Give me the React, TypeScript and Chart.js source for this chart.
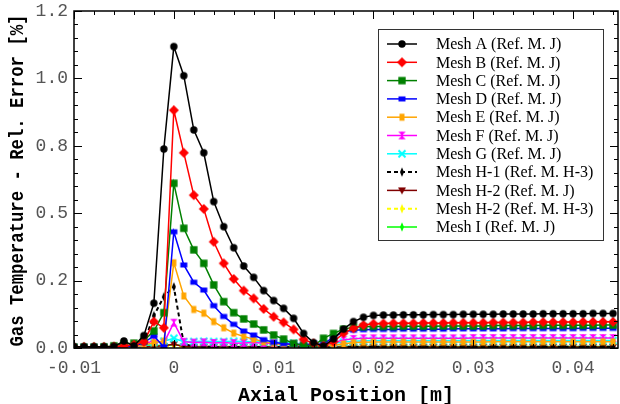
import React, { useEffect, useRef } from "react";
import { Chart, registerables } from "chart.js";

Chart.register(...registerables);

// Axial positions [m]
const xPositions = [
  -0.010, -0.009, -0.008, -0.007, -0.006, -0.005, -0.004, -0.003, -0.002, -0.001,
  0.000, 0.001, 0.002, 0.003, 0.004, 0.005, 0.006, 0.007, 0.008, 0.009,
  0.010, 0.011, 0.012, 0.013, 0.014, 0.015, 0.016, 0.017, 0.018, 0.019,
  0.020, 0.021, 0.022, 0.023, 0.024, 0.025, 0.026, 0.027, 0.028, 0.029,
  0.030, 0.031, 0.032, 0.033, 0.034, 0.035, 0.036, 0.037, 0.038, 0.039,
  0.040, 0.041, 0.042, 0.043, 0.044,
];

const meshA = [
  0.005, 0.005, 0.005, 0.005, 0.006, 0.026, 0.008, 0.046, 0.166, 0.738,
  1.118, 1.010, 0.809, 0.724, 0.543, 0.450, 0.372, 0.304, 0.262, 0.213,
  0.176, 0.147, 0.110, 0.054, 0.020, 0.007, 0.034, 0.070, 0.098, 0.114,
  0.121, 0.122, 0.122, 0.123, 0.123, 0.123, 0.124, 0.124, 0.124, 0.125,
  0.125, 0.125, 0.125, 0.126, 0.126, 0.126, 0.126, 0.127, 0.127, 0.127,
  0.127, 0.127, 0.128, 0.128, 0.128,
];
const meshB = [
  0.004, 0.004, 0.004, 0.004, 0.005, 0.008, 0.012, 0.023, 0.098, 0.075,
  0.882, 0.724, 0.567, 0.516, 0.394, 0.314, 0.256, 0.213, 0.184, 0.145,
  0.116, 0.095, 0.069, 0.032, 0.017, 0.008, 0.023, 0.055, 0.073, 0.085,
  0.090, 0.091, 0.092, 0.092, 0.092, 0.093, 0.093, 0.093, 0.094, 0.094,
  0.094, 0.094, 0.095, 0.095, 0.095, 0.095, 0.096, 0.096, 0.096, 0.096,
  0.096, 0.097, 0.097, 0.097, 0.097,
];
const meshC = [
  0.003, 0.003, 0.003, 0.004, 0.008, 0.015, 0.018, 0.028, 0.063, 0.131,
  0.611, 0.444, 0.364, 0.314, 0.234, 0.172, 0.131, 0.108, 0.089, 0.067,
  0.048, 0.033, 0.017, 0.010, 0.008, 0.036, 0.054, 0.070, 0.077, 0.079,
  0.080, 0.080, 0.080, 0.081, 0.081, 0.081, 0.081, 0.082, 0.082, 0.082,
  0.082, 0.082, 0.083, 0.083, 0.083, 0.083, 0.083, 0.084, 0.084, 0.084,
  0.084, 0.084, 0.084, 0.085, 0.085,
];
const meshD = [
  0.002, 0.002, 0.002, 0.002, 0.003, 0.005, 0.008, 0.020, 0.045, 0.004,
  0.431, 0.308, 0.244, 0.215, 0.157, 0.117, 0.088, 0.063, 0.048, 0.031,
  0.021, 0.016, 0.013, 0.012, 0.012, 0.015, 0.040, 0.060, 0.066, 0.068,
  0.069, 0.069, 0.069, 0.070, 0.070, 0.070, 0.070, 0.070, 0.071, 0.071,
  0.071, 0.071, 0.071, 0.071, 0.072, 0.072, 0.072, 0.072, 0.072, 0.072,
  0.072, 0.073, 0.073, 0.073, 0.073,
];
const meshE = [
  0.002, 0.002, 0.002, 0.002, 0.003, 0.004, 0.006, 0.010, 0.020, 0.025,
  0.316, 0.193, 0.143, 0.129, 0.098, 0.075, 0.055, 0.043, 0.033, 0.023,
  0.017, 0.013, 0.011, 0.010, 0.010, 0.008, 0.010, 0.015, 0.020, 0.021,
  0.022, 0.022, 0.022, 0.022, 0.022, 0.022, 0.022, 0.022, 0.022, 0.022,
  0.022, 0.022, 0.023, 0.023, 0.023, 0.023, 0.023, 0.023, 0.023, 0.023,
  0.023, 0.023, 0.023, 0.023, 0.023,
];
const meshF = [
  0.002, 0.002, 0.002, 0.002, 0.002, 0.003, 0.005, 0.010, 0.030, 0.018,
  0.094, 0.023, 0.020, 0.021, 0.019, 0.020, 0.018, 0.019, 0.020, 0.018,
  0.017, 0.016, 0.015, 0.014, 0.013, 0.014, 0.020, 0.030, 0.034, 0.036,
  0.036, 0.036, 0.036, 0.036, 0.036, 0.036, 0.036, 0.036, 0.036, 0.036,
  0.037, 0.037, 0.037, 0.037, 0.037, 0.037, 0.037, 0.037, 0.037, 0.037,
  0.037, 0.037, 0.037, 0.037, 0.037,
];
const meshG = [
  0.002, 0.002, 0.002, 0.002, 0.002, 0.004, 0.005, 0.006, 0.020, 0.025,
  0.036, 0.023, 0.024, 0.025, 0.024, 0.024, 0.025, 0.024, 0.023, 0.022,
  0.021, 0.020, 0.018, 0.017, 0.015, 0.015, 0.018, 0.022, 0.025, 0.027,
  0.028, 0.028, 0.028, 0.028, 0.028, 0.028, 0.028, 0.028, 0.028, 0.028,
  0.028, 0.028, 0.028, 0.028, 0.028, 0.028, 0.028, 0.028, 0.028, 0.028,
  0.028, 0.028, 0.028, 0.028, 0.028,
];
const meshH1 = [
  0.002, 0.002, 0.002, 0.002, 0.002, 0.002, 0.005, 0.020, 0.120, 0.190,
  0.227, 0.015, 0.006, 0.005, 0.004, 0.004, 0.004, 0.004, 0.004, 0.004,
  0.004, 0.004, 0.004, 0.004, 0.004, 0.004, 0.004, 0.004, 0.005, 0.005,
  0.005, 0.005, 0.005, 0.005, 0.005, 0.005, 0.005, 0.005, 0.005, 0.005,
  0.005, 0.005, 0.005, 0.005, 0.005, 0.005, 0.005, 0.005, 0.005, 0.005,
  0.005, 0.005, 0.005, 0.005, 0.005,
];
const meshH2J = [
  0.004, 0.004, 0.004, 0.004, 0.004, 0.004, 0.004, 0.005, 0.006, 0.008,
  0.014, 0.006, 0.004, 0.004, 0.004, 0.004, 0.004, 0.004, 0.004, 0.004,
  0.004, 0.004, 0.004, 0.004, 0.004, 0.004, 0.004, 0.004, 0.004, 0.004,
  0.004, 0.004, 0.004, 0.004, 0.004, 0.004, 0.004, 0.004, 0.004, 0.004,
  0.004, 0.004, 0.004, 0.004, 0.004, 0.004, 0.004, 0.004, 0.004, 0.004,
  0.004, 0.004, 0.004, 0.004, 0.004,
];
const meshH2H3 = [
  0.003, 0.003, 0.003, 0.003, 0.003, 0.003, 0.003, 0.004, 0.005, 0.006,
  0.008, 0.004, 0.003, 0.003, 0.003, 0.003, 0.003, 0.003, 0.003, 0.003,
  0.003, 0.003, 0.003, 0.003, 0.003, 0.003, 0.003, 0.003, 0.003, 0.003,
  0.003, 0.003, 0.003, 0.003, 0.003, 0.003, 0.003, 0.003, 0.003, 0.003,
  0.003, 0.003, 0.003, 0.003, 0.003, 0.003, 0.003, 0.003, 0.003, 0.003,
  0.003, 0.003, 0.003, 0.003, 0.003,
];
const meshI = [
  0.005, 0.005, 0.005, 0.005, 0.005, 0.005, 0.006, 0.007, 0.008, 0.010,
  0.012, 0.008, 0.006, 0.006, 0.006, 0.006, 0.006, 0.006, 0.006, 0.006,
  0.006, 0.006, 0.006, 0.006, 0.006, 0.006, 0.006, 0.006, 0.006, 0.006,
  0.006, 0.006, 0.006, 0.006, 0.006, 0.006, 0.006, 0.006, 0.006, 0.006,
  0.006, 0.006, 0.006, 0.006, 0.006, 0.006, 0.006, 0.006, 0.006, 0.006,
  0.006, 0.006, 0.006, 0.006, 0.006,
];

const seriesLabels = [
  "Mesh A (Ref. M. J)",
  "Mesh B (Ref. M. J)",
  "Mesh C (Ref. M. J)",
  "Mesh D (Ref. M. J)",
  "Mesh E (Ref. M. J)",
  "Mesh F (Ref. M. J)",
  "Mesh G (Ref. M. J)",
  "Mesh H-1 (Ref. M. H-3)",
  "Mesh H-2 (Ref. M. J)",
  "Mesh H-2 (Ref. M. H-3)",
  "Mesh I (Ref. M. J)",
];
const seriesValues = [meshA, meshB, meshC, meshD, meshE, meshF, meshG, meshH1, meshH2J, meshH2H3, meshI];
const seriesColors = ["#000000", "#ff0000", "#008000", "#0000ff", "#ffa500", "#ff00ff", "#00ffff", "#000000", "#800000", "#ffff00", "#00ff00"];
const seriesMarkers = ["circle", "diamond", "square", "hrect", "vrect", "hourglass", "cross", "thin", "tridown", "thin", "thin"];
const seriesDashed = [false, false, false, false, false, false, false, true, false, true, false];

const xTickValues = [-0.01, 0, 0.01, 0.02, 0.03, 0.04];
const xTickLabels = ["-0.01", "0", "0.01", "0.02", "0.03", "0.04"];
const yTickValues = [0, 0.25, 0.5, 0.75, 1.0, 1.25];
const yTickLabels = ["0.0", "0.2", "0.5", "0.8", "1.0", "1.2"];

const X_MIN = -0.01;
const X_MAX = 0.0445;
const X_MINOR = 0.002;
const X_MAJOR = 0.01;
const Y_MIN = 0;
const Y_MAX = 1.25;
const Y_MINOR = 0.05;
const Y_MAJOR = 0.25;

const xTitle = "Axial Position [m]";
const yTitle = "Gas Temperature - Rel. Error [%]";

function makeMarker(kind: string, color: string): HTMLCanvasElement {
  const s = 12;
  const c = document.createElement("canvas");
  c.width = s;
  c.height = s;
  const g = c.getContext("2d")!;
  const m = s / 2;
  g.fillStyle = color;
  g.strokeStyle = color;
  const poly = (pts: number[][]) => {
    g.beginPath();
    g.moveTo(pts[0][0], pts[0][1]);
    for (let i = 1; i < pts.length; i++) g.lineTo(pts[i][0], pts[i][1]);
    g.closePath();
    g.fill();
  };
  switch (kind) {
    case "circle":
      g.beginPath();
      g.arc(m, m, 3.7, 0, Math.PI * 2);
      g.fill();
      break;
    case "diamond":
      poly([[m, m - 5], [m + 5, m], [m, m + 5], [m - 5, m]]);
      break;
    case "square":
      g.fillRect(m - 3.7, m - 3.7, 7.4, 7.4);
      break;
    case "hrect":
      g.fillRect(m - 3.5, m - 2.5, 7, 5);
      break;
    case "vrect":
      g.fillRect(m - 2.5, m - 3.5, 5, 7);
      break;
    case "hourglass":
      poly([[m - 3.8, m - 3.8], [m + 3.8, m - 3.8], [m, m]]);
      poly([[m - 3.8, m + 3.8], [m + 3.8, m + 3.8], [m, m]]);
      g.lineWidth = 1.5;
      g.beginPath();
      g.moveTo(m, m - 3.8);
      g.lineTo(m, m + 3.8);
      g.stroke();
      break;
    case "cross":
      g.lineWidth = 2;
      g.beginPath();
      g.moveTo(m - 3.5, m - 3.5);
      g.lineTo(m + 3.5, m + 3.5);
      g.moveTo(m + 3.5, m - 3.5);
      g.lineTo(m - 3.5, m + 3.5);
      g.stroke();
      break;
    case "thin":
      poly([[m, m - 4.8], [m + 2, m], [m, m + 4.8], [m - 2, m]]);
      break;
    case "tridown":
      poly([[m - 4, m - 3], [m + 4, m - 3], [m, m + 4]]);
      break;
  }
  return c;
}

function crisp(v: number) {
  return Math.round(v) + 0.5;
}

const framePlugin = {
  id: "frameTicks",
  afterDatasetsDraw(chart: any) {
    const { ctx, chartArea: a, scales } = chart;
    const xs = scales.x;
    const ys = scales.y;
    ctx.save();
    ctx.strokeStyle = "#000";
    ctx.lineWidth = 1;
    const line = (x1: number, y1: number, x2: number, y2: number) => {
      ctx.beginPath();
      ctx.moveTo(x1, y1);
      ctx.lineTo(x2, y2);
      ctx.stroke();
    };
    const nx = Math.round((X_MAX - X_MIN) / X_MINOR);
    for (let k = 0; k <= nx; k++) {
      const v = X_MIN + k * X_MINOR;
      if (v > X_MAX + 1e-9) break;
      const r = v / X_MAJOR;
      const major = Math.abs(r - Math.round(r)) < 1e-6;
      const len = major ? 8 : 4;
      const p = crisp(xs.getPixelForValue(v));
      line(p, a.bottom, p, a.bottom - len);
      line(p, a.top, p, a.top + len);
    }
    const ny = Math.round((Y_MAX - Y_MIN) / Y_MINOR);
    for (let k = 0; k <= ny; k++) {
      const v = Y_MIN + k * Y_MINOR;
      const r = v / Y_MAJOR;
      const major = Math.abs(r - Math.round(r)) < 1e-6;
      const len = major ? 8 : 4;
      const p = crisp(ys.getPixelForValue(v));
      line(a.left, p, a.left + len, p);
      line(a.right, p, a.right - len, p);
    }
    ctx.lineWidth = 1.5;
    ctx.strokeRect(a.left, a.top, a.right - a.left, a.bottom - a.top);
    ctx.restore();
  },
};

const titlePlugin = {
  id: "axisTitles",
  afterDraw(chart: any) {
    const { ctx, chartArea: a } = chart;
    ctx.save();
    ctx.fillStyle = "#000";
    ctx.font = "bold 20px 'Liberation Mono'";
    ctx.textAlign = "center";
    ctx.textBaseline = "alphabetic";
    ctx.fillText(xTitle, (a.left + a.right) / 2, chart.height - 3);
    // y title, compressed along its length
    const w = ctx.measureText(yTitle).width;
    const target = 332;
    ctx.translate(23, (a.top + a.bottom) / 2 + 1);
    ctx.rotate(-Math.PI / 2);
    ctx.scale(target / w, 1);
    ctx.fillText(yTitle, 0, 0);
    ctx.restore();
  },
};

const legendPlugin = {
  id: "boxLegend",
  afterDraw(chart: any) {
    const { ctx, chartArea: a } = chart;
    const boxW = 225;
    const boxH = 211;
    const left = a.right - 15 - boxW;
    const top = a.top + 18;
    ctx.save();
    ctx.fillStyle = "#fff";
    ctx.fillRect(left, top, boxW, boxH);
    ctx.strokeStyle = "#333";
    ctx.lineWidth = 1;
    ctx.strokeRect(crisp(left), crisp(top), boxW, boxH);
    ctx.font = "16px 'Liberation Serif'";
    ctx.textBaseline = "middle";
    ctx.textAlign = "left";
    chart.data.datasets.forEach((ds: any, i: number) => {
      const y = top + 15 + i * 18.3;
      ctx.strokeStyle = ds.borderColor;
      ctx.lineWidth = ds.borderDash && ds.borderDash.length ? 2 : 1.5;
      ctx.setLineDash(ds.borderDash || []);
      ctx.beginPath();
      ctx.moveTo(left + 9, y);
      ctx.lineTo(left + 39, y);
      ctx.stroke();
      ctx.setLineDash([]);
      const img = ds.pointStyle as HTMLCanvasElement;
      ctx.drawImage(img, left + 24 - img.width / 2, y - img.height / 2);
      ctx.fillStyle = "#000";
      ctx.fillText(ds.label, left + 58, y + 1);
    });
    ctx.restore();
  },
};

export default function App() {
  const canvasRef = useRef<HTMLCanvasElement | null>(null);

  useEffect(() => {
    if (!canvasRef.current) return;
    const datasets = seriesLabels.map((label, i) => ({
      label,
      data: xPositions.map((x, j) => ({ x, y: seriesValues[i][j] })),
      borderColor: seriesColors[i],
      backgroundColor: seriesColors[i],
      borderWidth: seriesDashed[i] ? 2 : 1.5,
      borderDash: seriesDashed[i] ? [4, 3] : [],
      pointStyle: makeMarker(seriesMarkers[i], seriesColors[i]),
      pointRadius: 4,
      tension: 0,
      fill: false,
    }));

    const tickFont = { family: "'Liberation Mono'", size: 18 };
    const chart = new Chart(canvasRef.current, {
      type: "line",
      data: { datasets },
      options: {
        animation: false,
        responsive: false,
        maintainAspectRatio: false,
        devicePixelRatio: 1,
        layout: { autoPadding: false, padding: { top: 11, right: 2, left: 0, bottom: 0 } },
        plugins: { legend: { display: false }, tooltip: { enabled: false } },
        scales: {
          x: {
            type: "linear",
            min: X_MIN,
            max: X_MAX,
            afterBuildTicks: (s: any) => {
              s.ticks = xTickValues.map((v) => ({ value: v }));
            },
            afterFit: (s: any) => {
              s.height = 56;
              s.paddingLeft = 0;
              s.paddingRight = 0;
            },
            ticks: {
              autoSkip: false,
              maxRotation: 0,
              padding: 9,
              color: "#555",
              font: tickFont,
              callback: (v: any) => {
                const i = xTickValues.findIndex((t) => Math.abs(t - v) < 1e-9);
                return i >= 0 ? xTickLabels[i] : "";
              },
            },
            grid: { display: false, drawTicks: false },
            border: { display: false },
          },
          y: {
            type: "linear",
            min: Y_MIN,
            max: Y_MAX,
            afterBuildTicks: (s: any) => {
              s.ticks = yTickValues.map((v) => ({ value: v }));
            },
            afterFit: (s: any) => {
              s.width = 74;
              s.paddingTop = 0;
              s.paddingBottom = 0;
            },
            ticks: {
              autoSkip: false,
              padding: 6,
              color: "#555",
              font: tickFont,
              callback: (v: any) => {
                const i = yTickValues.findIndex((t) => Math.abs(t - v) < 1e-9);
                return i >= 0 ? yTickLabels[i] : "";
              },
            },
            grid: { display: false, drawTicks: false },
            border: { display: false },
          },
        },
      } as any,
      plugins: [framePlugin, titlePlugin, legendPlugin],
    });
    return () => chart.destroy();
  }, []);

  return (
    <div style={{ position: "absolute", left: 0, top: 0, width: 620, height: 404, background: "#fff" }}>
      <canvas ref={canvasRef} width={620} height={404} style={{ display: "block", width: 620, height: 404 }} />
    </div>
  );
}
